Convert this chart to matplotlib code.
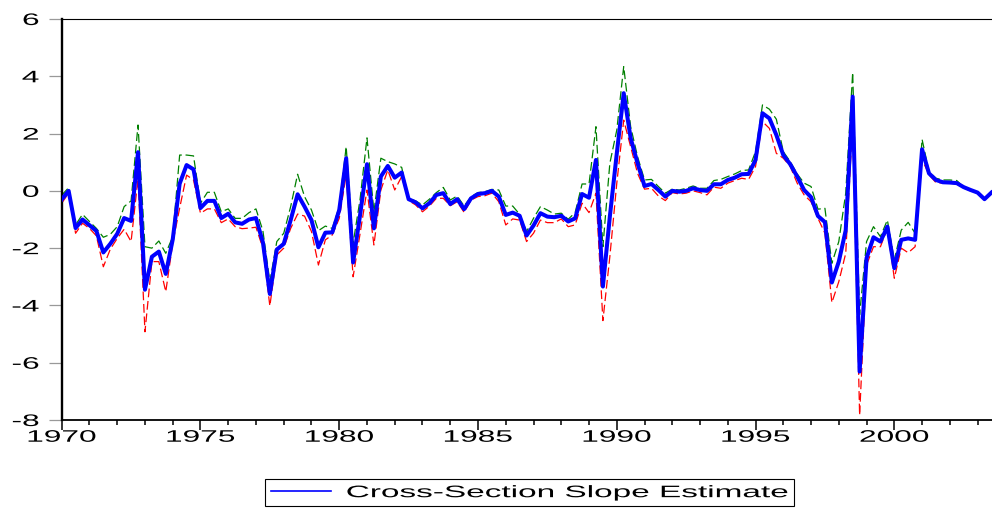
import numpy as np
import matplotlib
matplotlib.use("Agg")
import matplotlib.pyplot as plt
from matplotlib.lines import Line2D
from matplotlib.patheffects import AbstractPathEffect, PathEffectRenderer
from matplotlib.transforms import Affine2D

plt.rcParams['font.family'] = ['Liberation Sans', 'DejaVu Sans']
plt.rcParams['axes.unicode_minus'] = False

# quarterly observations, 1970Q1 .. 2003Q3
start_year = 1970
legend_label = 'Cross-Section Slope Estimate'

slope = [
    -0.30, 0.00, -1.30, -1.00,   -1.20, -1.40, -2.15, -1.85,
    -1.50, -0.95, -1.05, 1.35,   -3.45, -2.30, -2.12, -2.90,
    -1.70, 0.25, 0.90, 0.75,     -0.60, -0.35, -0.35, -0.95,
    -0.80, -1.10, -1.15, -1.00,  -0.95, -1.80, -3.60, -2.05,
    -1.85, -1.02, -0.12, -0.55,  -1.02, -1.97, -1.46, -1.45,
    -0.67, 1.14, -2.50, -0.85,   0.93, -1.31, 0.50, 0.87,
    0.46, 0.64, -0.29, -0.40,    -0.61, -0.43, -0.14, -0.08,
    -0.46, -0.29, -0.64, -0.26,  -0.11, -0.08, 0.00, -0.20,
    -0.84, -0.76, -0.87, -1.56,  -1.21, -0.78, -0.90, -0.92,
    -0.87, -1.07, -0.96, -0.11,  -0.24, 1.08, -3.34, -0.90,
    1.30, 3.41, 1.84, 0.96,      0.17, 0.24, 0.03, -0.20,
    0.00, -0.03, 0.00, 0.09,     0.03, 0.00, 0.23, 0.23,
    0.38, 0.46, 0.58, 0.59,      1.08, 2.71, 2.53, 1.95,
    1.25, 0.93, 0.50, 0.03,      -0.22, -0.88, -1.09, -3.20,
    -2.47, -1.37, 3.29, -6.31,   -2.35, -1.62, -1.77, -1.25,
    -2.70, -1.71, -1.66, -1.71,  1.45, 0.61, 0.38, 0.30,
    0.29, 0.27, 0.13, 0.03,      -0.06, -0.29, -0.06,
]

upper = [
    -0.15, 0.11, -1.19, -0.82,   -1.07, -1.31, -1.62, -1.52,
    -1.25, -0.55, -0.35, 2.30,   -1.95, -2.00, -1.75, -2.18,
    -1.60, 1.25, 1.25, 1.22,     -0.43, -0.05, -0.05, -0.73,
    -0.63, -0.96, -0.96, -0.76,  -0.63, -1.40, -3.17, -1.77,
    -1.48, -0.55, 0.58, -0.20,   -0.67, -1.39, -1.23, -1.31,
    -0.55, 1.54, -1.83, -0.30,   1.85, -0.73, 1.14, 1.02,
    0.94, 0.82, -0.26, -0.35,    -0.49, -0.29, -0.06, 0.12,
    -0.32, -0.18, -0.53, -0.20,  -0.06, -0.03, 0.05, 0.03,
    -0.53, -0.53, -0.82, -1.42,  -0.96, -0.55, -0.67, -0.81,
    -0.78, -0.99, -0.76, 0.24,   0.24, 2.24, -1.95, 0.96,
    2.12, 4.34, 2.24, 1.19,      0.38, 0.40, 0.15, -0.08,
    0.06, 0.03, 0.09, 0.17,      0.09, 0.09, 0.36, 0.40,
    0.50, 0.59, 0.71, 0.73,      1.37, 3.00, 2.85, 2.50,
    1.37, 1.02, 0.59, 0.27,      0.15, -0.64, -0.61, -2.53,
    -1.77, -0.08, 4.13, -4.33,   -1.77, -1.25, -1.60, -1.02,
    -2.41, -1.37, -1.10, -1.48,  1.80, 0.67, 0.44, 0.38,
    0.38, 0.36, 0.13, 0.03,      -0.06, -0.29, -0.06,
]

lower = [
    -0.43, -0.08, -1.48, -1.13,  -1.31, -1.57, -2.65, -2.04,
    -1.66, -1.34, -1.77, 0.44,   -4.92, -2.47, -2.47, -3.52,
    -1.83, -0.60, 0.55, 0.38,    -0.78, -0.63, -0.63, -1.11,
    -0.98, -1.25, -1.32, -1.30,  -1.27, -2.00, -4.02, -2.24,
    -2.00, -1.31, -0.81, -0.88,  -1.42, -2.59, -1.71, -1.54,
    -0.96, 0.56, -3.00, -1.50,   0.03, -1.89, 0.03, 0.73,
    0.03, 0.50, -0.34, -0.49,    -0.73, -0.53, -0.26, -0.26,
    -0.52, -0.38, -0.75, -0.32,  -0.20, -0.17, -0.08, -0.38,
    -1.19, -0.98, -1.02, -1.77,  -1.48, -1.02, -1.11, -1.11,
    -0.98, -1.25, -1.19, -0.43,  -0.76, -0.08, -4.53, -2.30,
    0.26, 2.47, 1.54, 0.61,      0.06, 0.09, -0.18, -0.34,
    -0.06, -0.11, -0.08, 0.00,   -0.06, -0.14, 0.13, 0.09,
    0.27, 0.36, 0.44, 0.40,      0.85, 2.42, 2.18, 1.31,
    1.14, 0.85, 0.27, -0.14,     -0.38, -0.96, -1.48, -3.90,
    -3.17, -2.18, 2.42, -7.83,   -2.59, -1.95, -1.95, -1.31,
    -3.05, -2.00, -2.16, -1.95,  1.10, 0.56, 0.29, 0.27,
    0.27, 0.24, 0.10, 0.00,      -0.08, -0.31, -0.08,
]


class Stretch(AbstractPathEffect):
    # widen glyphs horizontally, like the squeezed-then-stretched original
    def __init__(self, sx=1.9, anchor='center'):
        super().__init__()
        self.sx = sx
        self.anchor = anchor

    def draw_path(self, renderer, gc, tpath, affine, rgbFace=None):
        if isinstance(renderer, PathEffectRenderer):
            renderer = renderer._renderer
        ext = tpath.get_extents(affine)
        if self.anchor == 'right':
            x0 = ext.x1
        elif self.anchor == 'left':
            x0 = ext.x0
        else:
            x0 = 0.5 * (ext.x0 + ext.x1)
        a = affine + Affine2D().translate(-x0, 0).scale(self.sx, 1).translate(x0, 0)
        renderer.draw_path(gc, tpath, a, rgbFace)


t = start_year + np.arange(len(slope)) / 4.0

fig = plt.figure(figsize=(9.92, 5.08), dpi=100)
ax = fig.add_axes([61.7 / 992, 88 / 508, 1 - 61.7 / 992, 401 / 508])

ax.plot(t, upper, color='#008000', lw=0.9, ls=(0, (7, 3)), zorder=2)
ax.plot(t, lower, color='#ff0000', lw=0.9, ls=(0, (7, 3)), zorder=2)
ax.plot(t, slope, color='#0000ff', lw=2.9, zorder=3)

ax.set_xlim(1970, 2003.52)
ax.set_ylim(-8, 6)
ax.set_yticks(np.arange(-8, 7, 2))
ax.set_xticks(np.arange(1970, 2001, 5))
ax.set_xticks(np.arange(1970, 2004, 1), minor=True)

ax.spines['right'].set_visible(False)
ax.spines['left'].set_linewidth(1.7)
ax.spines['bottom'].set_linewidth(1.3)
ax.spines['top'].set_linewidth(0.8)

ax.tick_params(axis='y', direction='out', length=9.4, width=0.9, color='#999999',
               pad=7, labelsize=12)
ax.tick_params(axis='x', which='major', direction='out', length=7, width=1.1,
               color='black', pad=0, labelsize=12)
ax.tick_params(axis='x', which='minor', direction='out', length=3.6, width=1.1,
               color='black')

for lab in ax.get_yticklabels():
    lab.set_path_effects([Stretch(1.9, 'right')])
for lab in ax.get_xticklabels():
    lab.set_path_effects([Stretch(1.9, 'center')])

# legend: measure plain text width, then leave room for the widened text
fs_px = 12 * 100 / 72
probe = fig.text(0, 0, legend_label, fontsize=12)
W = probe.get_window_extent(fig.canvas.get_renderer()).width
probe.remove()
text_px = 443
gap = 14
leg = ax.legend(handles=[Line2D([], [], color='#0000ff', lw=1.2)], labels=[legend_label],
                loc='lower center', bbox_to_anchor=(529.5 / 992, 2 / 508),
                bbox_transform=fig.transFigure, fontsize=12, frameon=True,
                fancybox=False, shadow=False, framealpha=1, edgecolor='black',
                borderpad=0.35, borderaxespad=0, handlelength=60 / fs_px,
                handletextpad=(text_px - W + gap) / fs_px)
leg.get_frame().set_linewidth(0.8)
for txt in leg.get_texts():
    txt.set_path_effects([Stretch(text_px / W, 'right')])

fig.savefig('out.png', dpi=100)
